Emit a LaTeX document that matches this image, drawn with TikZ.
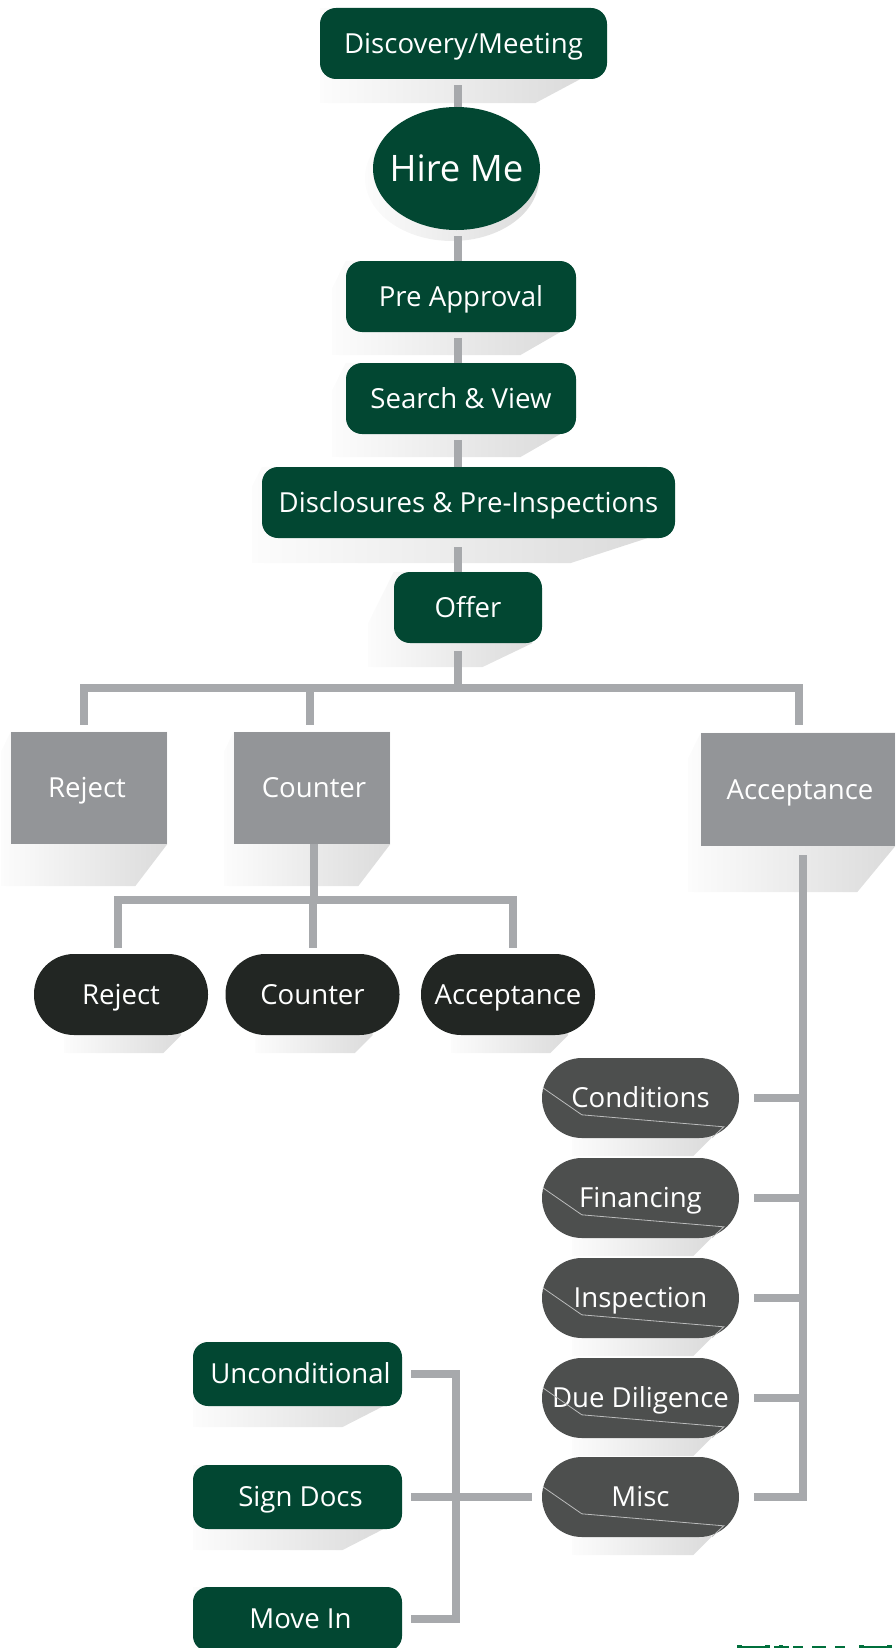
\documentclass[tikz,border=0pt]{standalone}
\usepackage{fontspec}
\setmainfont{Open Sans}
\usetikzlibrary{shapes.geometric,calc,backgrounds,fadings}
\definecolor{dkgreen}{HTML}{024732}
\definecolor{boxgray}{HTML}{939598}
\definecolor{conngray}{HTML}{A7A9AC}
\definecolor{pilldark}{HTML}{222623}
\definecolor{pillgray}{HTML}{4D4F4E}
\definecolor{shadgray}{HTML}{DBDBDB}
\definecolor{logogreen}{HTML}{00703C}
\tikzfading[name=shfade, left color=transparent!92, right color=transparent!0]
\tikzset{
  txt/.style={text=white, font=\fontsize{27.6}{32}\selectfont, text height=19.7pt, text depth=0pt, inner sep=0pt},
  gbox/.style={txt, fill=dkgreen, rounded corners=16pt, minimum height=71pt},
  lowgbox/.style={txt, fill=dkgreen, rounded corners=15pt, minimum width=209pt, minimum height=64pt},
  graybox/.style={txt, fill=boxgray, minimum width=156pt, minimum height=112pt},
  dpill/.style={txt, fill=pilldark, rounded corners=40pt, minimum width=174pt, minimum height=81pt},
  rpill/.style={txt, fill=pillgray, rounded corners=40pt, minimum width=197pt, minimum height=80pt},
  conn/.style={draw=conngray, line width=8pt},
  foldline/.style={draw=white!62!pillgray, line width=0.8pt},
  shadowfill/.style={fill=shadgray, path fading=shfade},
}
% shadow of a box: node, left strip, bottom depth, diagonal start offset, diagonal end offset
\newcommand\dropsh[5]{%
  \fill[shadowfill]
    (#1.north west) -- ($(#1.north west)+(-#2,2*#2)$) -- ($(#1.south west)+(-#2,#3)$)
    -- ($(#1.south east)+(-#5,#3)$) -- ($(#1.south east)+(-#4,0)$) -- ($(#1.north east)+(-#4,0)$) -- cycle;}
% shadow of a pill: only below it
\newcommand\pillsh[3]{%
  \fill[shadowfill]
    ($(#1.south west)+(30,-20)$) -- ($(#1.south west)+(30,#2)$)
    -- ($(#1.south east)+(-#3,#2)$) -- ($(#1.south east)+(-#3+#2,0)$) -- ($(#1.south east)+(-#3+#2,-20)$) -- cycle;}
\newcommand\foldmark[1]{%
  \draw[foldline] ($(#1.north west)+(1,30)$) -- ++(39,27) -- ++(142,12) -- ++(-12,11);}
\begin{document}
\begin{tikzpicture}[x=1pt,y=-1pt]
\useasboundingbox (0,0) rectangle (895,1648);
\clip (0,0) rectangle (895,1648);

% ---------- nodes ----------
\node[gbox, minimum width=287pt] (disc) at (463.5,43.5) {Discovery/Meeting};
\node[ellipse, fill=dkgreen, minimum width=167pt, minimum height=123pt, inner sep=0pt,
      text=white, font=\fontsize{36.5}{40}\selectfont] (hire) at (456.5,168.5) {\makebox[0pt]{Hire Me}};
\node[gbox, minimum width=230pt] (pre) at (461,296.5) {Pre Approval};
\node[gbox, minimum width=230pt] (search) at (461,398.5) {Search \& View};
\node[gbox, minimum width=413pt] (discl) at (468.5,502.5) {Disclosures \& Pre-Inspections};
\node[gbox, minimum width=148pt] (offer) at (468,607.5) {Offer};

\node[graybox] (rej1) at (89,788) {Reject\hspace*{4pt}};
\node[graybox] (cnt1) at (312,788) {\hspace*{4pt}Counter};
\node[graybox, minimum width=194pt, minimum height=113pt] (acc1) at (798,789.5) {\hspace*{4pt}Acceptance};

\node[dpill] (rej2) at (121,994.5) {Reject};
\node[dpill] (cnt2) at (312.5,994.5) {Counter};
\node[dpill] (acc2) at (508,994.5) {Acceptance};

\node[rpill] (cond) at (640.5,1098) {Conditions};
\node[rpill] (fin) at (640.5,1198) {Financing};
\node[rpill] (insp) at (640.5,1298) {Inspection};
\node[rpill] (dd) at (640.5,1398) {Due Diligence};
\node[rpill] (misc) at (640.5,1497) {Misc};

\node[lowgbox] (uncond) at (297.5,1374) {\hspace*{6pt}Unconditional};
\node[lowgbox] (sign) at (297.5,1497) {\hspace*{6pt}Sign Docs};
\node[lowgbox] (move) at (297.5,1619) {\hspace*{6pt}Move In};

\foreach \p in {cond,fin,insp,dd,misc} {\foldmark{\p}}

% ---------- shadows and connectors (behind) ----------
\begin{pgfonlayer}{background}
\dropsh{disc}{0}{24}{27}{72}
\fill[shadowfill] (452,178) ellipse [x radius=87, y radius=63];
\dropsh{pre}{14}{23}{16}{56}
\dropsh{search}{14}{23}{16}{56}
\dropsh{discl}{10}{25}{28}{105}
\dropsh{offer}{26}{24}{10}{60}
\dropsh{rej1}{10}{42}{0}{32}
\dropsh{cnt1}{10}{42}{0}{32}
\dropsh{acc1}{13}{46}{0}{38}
\foreach \p in {rej2,cnt2,acc2} {\pillsh{\p}{18}{45}}
\foreach \p in {cond,fin,insp,dd,misc} {\pillsh{\p}{18}{46}}
\foreach \p in {uncond,sign,move} {\dropsh{\p}{0}{21}{19}{60}}

\coordinate (sp) at (458,0);
\draw[conn, shorten <=6pt] (sp |- disc.south) -- (sp |- hire.center);
\draw[conn, shorten <=6pt] (sp |- hire.south) -- (sp |- pre.north);
\draw[conn, shorten <=6pt] (sp |- pre.south) -- (sp |- search.north);
\draw[conn, shorten <=6pt] (sp |- search.south) -- (sp |- discl.north);
\draw[conn, shorten <=9pt] (sp |- discl.south) -- (sp |- offer.north);

\coordinate (bus1) at (458,688);
\coordinate (dL) at ($(rej1.north)+(-5,-7)$);
\coordinate (dC) at ($(cnt1.north)+(-2,-7)$);
\coordinate (dR) at ($(acc1.north)+(1,-8)$);
\draw[conn, shorten <=8pt] (sp |- offer.south) -- (bus1);
\draw[conn] (dL) |- (bus1) -| (dR);
\draw[conn] (dC |- bus1) -- (dC);

\coordinate (bus2) at ($(cnt1.south)+(2,56)$);
\coordinate (e1) at ($(rej2.north)+(-3,-6)$);
\coordinate (e2) at ($(cnt2.north)+(0.5,-6)$);
\coordinate (e3) at ($(acc2.north)+(5,-6)$);
\draw[conn] (cnt1.south -| bus2) -- (bus2);
\draw[conn] (e1) |- (bus2) -| (e3);
\draw[conn] (e2 |- bus2) -- (e2);

\coordinate (spR) at ($(acc1.south)+(5,9)$);
\draw[conn] (spR) |- ($(misc.east)+(15,0)$);
\foreach \p in {cond,fin,insp,dd} {\draw[conn] ($(\p.east)+(15,0)$) -- (\p.east -| spR);}

\draw[conn] ($(uncond.east)+(9,0)$) -| ($(move.east)+(54,0)$) -- ($(move.east)+(9,0)$);
\draw[conn] ($(sign.east)+(9,0)$) -- ($(misc.west)+(-10,0)$);
\end{pgfonlayer}

% ---------- cut-off green marks at lower right ----------
\fill[logogreen] (737,1646) rectangle (770,1648);
\fill[logogreen] (737,1645) rectangle (742,1648);
\fill[logogreen] (765,1645) rectangle (770,1648);
\fill[logogreen] (774,1646) rectangle (789,1648);
\fill[logogreen] (779,1645) rectangle (783,1648);
\fill[logogreen] (793,1646) rectangle (803,1648);
\fill[logogreen] (812,1646) rectangle (826,1648);
\fill[logogreen] (835,1646) rectangle (845,1648);
\fill[logogreen] (859,1646) rectangle (892,1648);
\fill[logogreen] (859,1645) rectangle (864,1648);
\fill[logogreen] (887,1645) rectangle (892,1648);
\end{tikzpicture}
\end{document}
